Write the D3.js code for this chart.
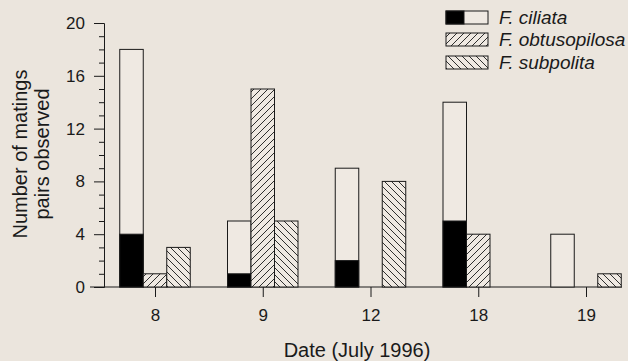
<!DOCTYPE html>
<html><head><meta charset="utf-8">
<script src="https://cdn.jsdelivr.net/npm/d3@7"></script>
<style>body{margin:0;background:#ebe5dd;}svg{display:block;}</style>
</head><body><svg id="c" width="628" height="361"></svg>
<script>
const dates = ["8","9","12","18","19"];
const species = ["F. ciliata","F. obtusopilosa","F. subpolita"];
const ciliataTotal = [18,5,9,14,4];
const ciliataBlack = [4,1,2,5,0];
const obtusopilosa = [1,15,0,4,0];
const subpolita = [3,5,8,0,1];
const yTicks = [0,4,8,12,16,20];

const svg = d3.select("#c");
const bg = "#ebe5dd", ink = "#1a1a1a", fillW = "#efe9e2";
const font = "Liberation Sans, Arial, sans-serif";
svg.append("rect").attr("width",628).attr("height",361).attr("fill",bg);
const defs = svg.append("defs");
function hatch(id, dir){
  const p = defs.append("pattern").attr("id",id).attr("patternUnits","userSpaceOnUse")
    .attr("width",7).attr("height",7);
  p.append("rect").attr("width",7).attr("height",7).attr("fill",fillW);
  const d = dir>0 ? "M-1,8 L8,-1 M-1,1 L1,-1 M6,8 L8,6" : "M-1,-1 L8,8 M6,-1 L8,1 M-1,6 L1,8";
  p.append("path").attr("d",d).attr("stroke",ink).attr("stroke-width",0.9);
}
hatch("hUp",1); hatch("hDown",-1);

const x = d3.scalePoint().domain(dates).range([155,586]);
const y = d3.scaleLinear().domain([0,20]).range([287,23]);
const bw = 23.5;

// axes
const gy = svg.append("g").attr("transform","translate(104,0)");
gy.call(d3.axisLeft(y).tickValues(yTicks).tickSize(10).tickPadding(9).tickFormat(d3.format("d")));
gy.append("g").call(d3.axisLeft(y).tickValues(d3.range(0,21).filter(v=>v%4)).tickSize(5).tickFormat(""));
gy.selectAll(".domain").attr("stroke",ink);
gy.selectAll("g").selectAll(".domain").remove();
gy.selectAll("line").attr("stroke",ink);
gy.selectAll("text").attr("font-family",font).attr("font-size",17).attr("fill",ink);

const gx = svg.append("g").attr("transform","translate(0,287)");
gx.call(d3.axisBottom(x).tickSize(10).tickPadding(12));
gx.select(".domain").attr("d","M90,0H622").attr("stroke",ink);
gx.selectAll("line").attr("stroke",ink);
gx.selectAll("text").attr("font-family",font).attr("font-size",17).attr("fill",ink);

// bars
const g = svg.append("g");
dates.forEach((d,i)=>{
  const cx = x(d);
  if(ciliataTotal[i]>0){
    g.append("rect").attr("x",cx-bw*1.5).attr("y",y(ciliataTotal[i])).attr("width",bw)
      .attr("height",y(0)-y(ciliataTotal[i])).attr("fill",fillW).attr("stroke",ink).attr("stroke-width",1);
  }
  if(ciliataBlack[i]>0){
    g.append("rect").attr("x",cx-bw*1.5).attr("y",y(ciliataBlack[i])).attr("width",bw)
      .attr("height",y(0)-y(ciliataBlack[i])).attr("fill","#000").attr("stroke",ink).attr("stroke-width",1);
  }
  if(obtusopilosa[i]>0){
    g.append("rect").attr("x",cx-bw*0.5).attr("y",y(obtusopilosa[i])).attr("width",bw)
      .attr("height",y(0)-y(obtusopilosa[i])).attr("fill","url(#hUp)").attr("stroke",ink).attr("stroke-width",1);
  }
  if(subpolita[i]>0){
    g.append("rect").attr("x",cx+bw*0.5).attr("y",y(subpolita[i])).attr("width",bw)
      .attr("height",y(0)-y(subpolita[i])).attr("fill","url(#hDown)").attr("stroke",ink).attr("stroke-width",1);
  }
});

// axis titles
const yt = svg.append("text").attr("transform","translate(0,154) rotate(-90)")
  .attr("text-anchor","middle").attr("font-family",font).attr("font-size",20).attr("fill",ink);
yt.append("tspan").attr("x",0).attr("y",27).text("Number of matings");
yt.append("tspan").attr("x",0).attr("y",49).text("pairs observed");
svg.append("text").attr("x",357).attr("y",357).attr("text-anchor","middle")
  .attr("font-family",font).attr("font-size",20).attr("fill",ink).text("Date (July 1996)");

// legend
const lg = svg.append("g");
const rowsY = [11,33,56];
species.forEach((s,i)=>{
  const yy = rowsY[i];
  if(i===0){
    lg.append("rect").attr("x",446).attr("y",yy).attr("width",42).attr("height",13).attr("fill",fillW).attr("stroke",ink);
    lg.append("rect").attr("x",446).attr("y",yy).attr("width",18).attr("height",13).attr("fill","#000").attr("stroke",ink);
  } else {
    lg.append("rect").attr("x",446).attr("y",yy).attr("width",42).attr("height",13)
      .attr("fill", i===1?"url(#hUp)":"url(#hDown)").attr("stroke",ink);
  }
  lg.append("text").attr("x",499).attr("y",yy+13).attr("font-family",font).attr("font-style","italic")
    .attr("font-size",19).attr("fill",ink).text(s);
});
</script></body></html>
